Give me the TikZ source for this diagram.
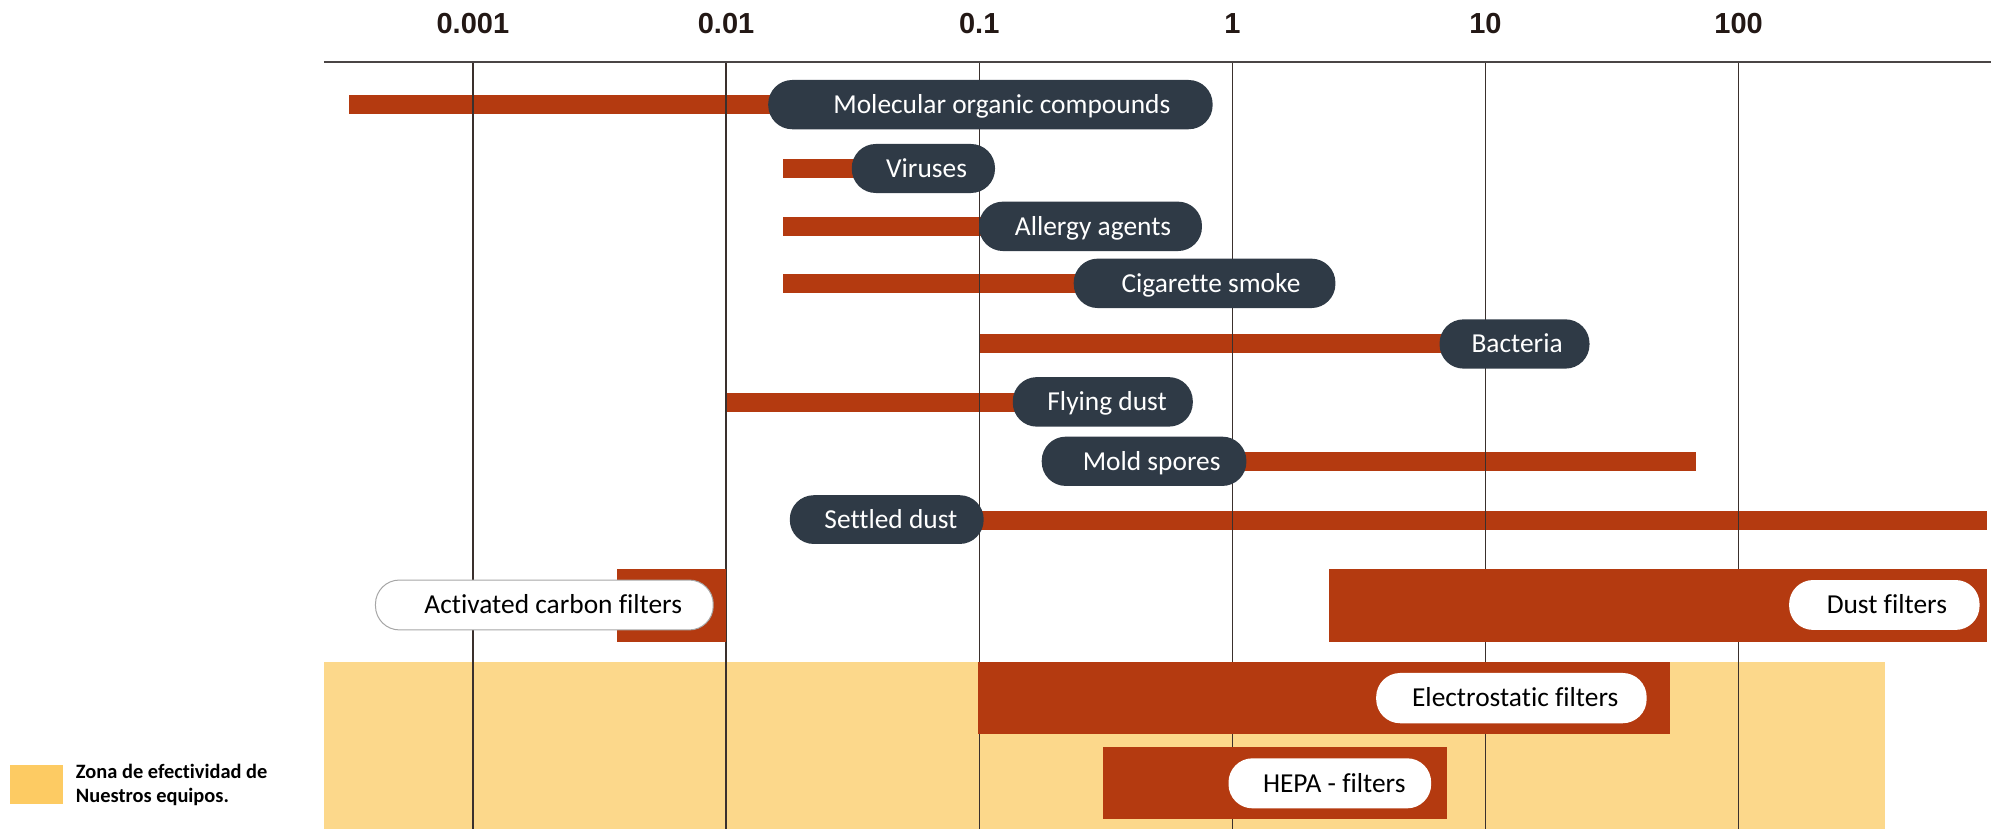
\documentclass[tikz,border=0pt]{standalone}
\usepackage{fontspec}
\setmainfont{Carlito}[Ligatures=NoCommon]
\newfontfamily\tickfont{Liberation Sans}
\definecolor{barc}{HTML}{B43A10}
\definecolor{pillc}{HTML}{2F3A46}
\definecolor{zonec}{HTML}{FCD88B}
\definecolor{legc}{HTML}{FDCB63}
\definecolor{gridc}{HTML}{3A302D}
\definecolor{axisc}{HTML}{4A4545}
\definecolor{tickc}{HTML}{231815}
\tikzset{
  x=0.6349pt, y=-0.6349pt,
  bar/.style={fill=barc},
  darkpill/.style={fill=pillc, text=white, rounded corners=12pt, inner sep=0pt,
     font=\fontsize{13.7}{16}\selectfont, text height=0.9em, text depth=0.02em},
  whitepill/.style={fill=white, text=black, rounded corners=12pt, inner sep=0pt,
     font=\fontsize{13.7}{16}\selectfont, text height=0.9em, text depth=0.02em},
  ticklab/.style={font=\tickfont\bfseries\fontsize{14.5}{16}\selectfont, text=tickc, inner sep=0pt},
  gridline/.style={draw=gridc, line width=0.75pt},
}
% #1 style, #2 name, #3 left, #4 right, #5 top, #6 bottom, #7 text shift, #8 text
\newcommand{\pillnode}[8]{%
  \node[#1, minimum width={(#4-#3)*0.6349pt}, minimum height={(#6-#5)*0.6349pt}]
     (#2) at ({(#3+#4)/2},{(#5+#6)/2}) {\hspace*{\dimexpr #7pt*127/100\relax}#8};}
\begin{document}
\begin{tikzpicture}
\useasboundingbox (0,0) rectangle (1568,653);
% effectiveness zone
\fill[zonec] (255,521.4) rectangle (1484.3,653);
% thin bars
\fill[bar] (275,75) rectangle (620,90);
\fill[bar] (616.6,125.5) rectangle (680,140.5);
\fill[bar] (616.6,171) rectangle (775,186);
\fill[bar] (616.6,216) rectangle (855,231);
\fill[bar] (771,263) rectangle (1140,278);
\fill[bar] (571.8,309.5) rectangle (805,324.5);
\fill[bar] (975,356) rectangle (1336,371);
\fill[bar] (771,402.5) rectangle (1565,417.5);
% grid lines and axis
\foreach \gx/\gn in {372.4/g3,571.8/g2,771.2/g1,970.6/g0,1169.8/gp1,1369.2/gp2}{
  \coordinate (\gn t) at (\gx,48.8);
  \coordinate (\gn b) at (\gx,653);
  \draw[gridline] (\gn t) -- (\gn b);
}
\coordinate (axl) at (255,48.8);
\coordinate (axr) at (1568,48.8);
\draw[draw=axisc, line width=1.2pt] (axl) -- (axr);
% tick labels
\node[ticklab] (t3) at (372.4,18.8) {0.001};
\node[ticklab] (t2) at (571.8,18.8) {0.01};
\node[ticklab] (t1) at (771.2,18.8) {0.1};
\node[ticklab] (t0) at (970.6,18.8) {1};
\node[ticklab] (tp1) at (1169.8,18.8) {10};
\node[ticklab] (tp2) at (1369.2,18.8) {100};
% particle pills
\pillnode{darkpill}{moc}{605}{955}{63}{101.8}{9}{Molecular organic compounds}
\pillnode{darkpill}{vir}{670.8}{783.6}{113.4}{152}{2.5}{Viruses}
\pillnode{darkpill}{all}{771}{946.6}{158.8}{197.7}{2}{Allergy agents}
\pillnode{darkpill}{cig}{845.6}{1051.7}{203.7}{242.6}{5}{Cigarette smoke}
\pillnode{darkpill}{bac}{1133.7}{1251.8}{251.5}{290.3}{2}{Bacteria}
\pillnode{darkpill}{fly}{797.6}{939.4}{297}{336}{3.4}{Flying dust}
\pillnode{darkpill}{mol}{820.4}{981.6}{343.9}{382.7}{6}{Mold spores}
\pillnode{darkpill}{set}{622}{774.7}{390}{428.4}{3.3}{Settled dust}
% filter boxes
\fill[bar] (486,448.3) rectangle (571.4,505.3);
\fill[bar] (1047,448.3) rectangle (1565,505.3);
\fill[bar] (770.2,521.4) rectangle (1315.5,578.3);
\fill[bar] (868.8,588.5) rectangle (1139.3,645.2);
% filter pills
\pillnode{whitepill,draw=gray!70,line width=0.5pt}{acf}{295.7}{561.7}{456.8}{496.1}{7}{Activated carbon filters}
\pillnode{whitepill}{duf}{1409}{1559}{456.8}{496.1}{2}{Dust filters}
\pillnode{whitepill}{elf}{1083.8}{1296.8}{530}{569.6}{3}{Electrostatic filters}
\pillnode{whitepill}{hep}{967.5}{1127.1}{597.2}{636.6}{3.5}{HEPA - filters}
% legend
\fill[legc] (8,602.5) rectangle (49.4,633.2);
\node[anchor=north west, inner sep=0pt, align=left,
      font=\bfseries\fontsize{10.2}{11.9}\selectfont] (leg) at (59.5,601.5)
      {Zona de efectividad de\\Nuestros equipos.};
\end{tikzpicture}
\end{document}
